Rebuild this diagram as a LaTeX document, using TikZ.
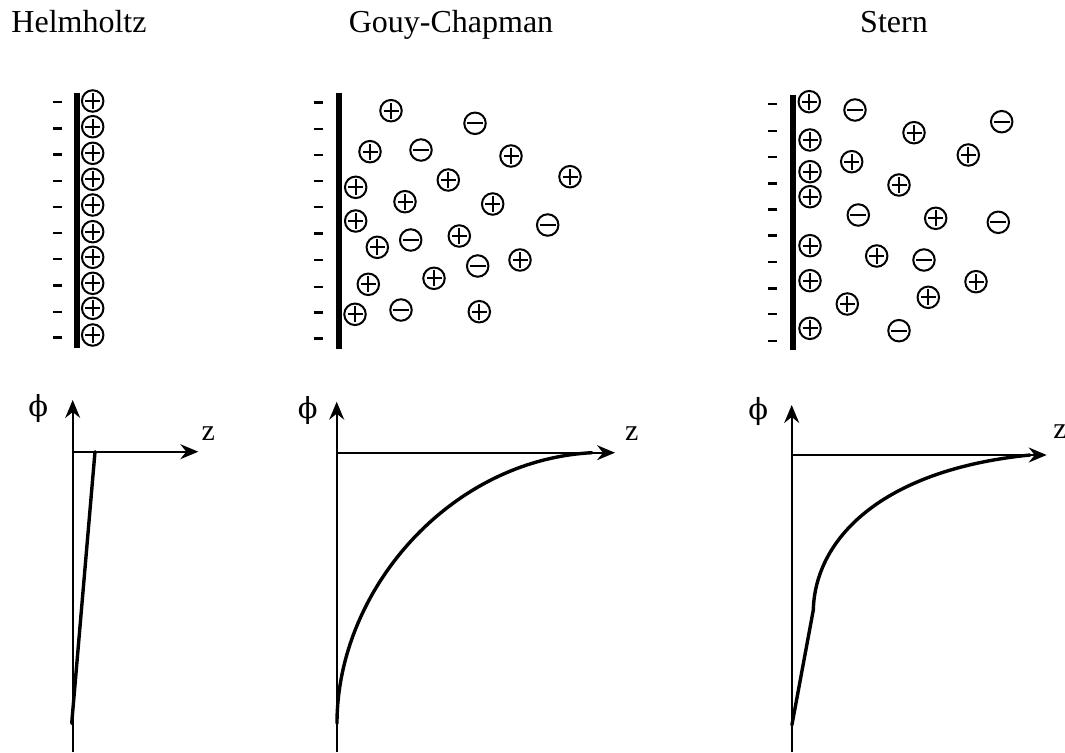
\documentclass[tikz,border=0pt]{standalone}
\usepackage{fontspec}
\setmainfont{Liberation Serif}
\newfontfamily\phifont{DejaVu Serif}
\usetikzlibrary{arrows.meta}
\tikzset{
  ionbase/.style={circle, draw, line width=2pt, fill=white, minimum size=21.5pt, inner sep=0pt},
  ionp/.style={ionbase, path picture={\draw[line width=1.9pt] (path picture bounding box.center) +(-7.5pt,0) -- +(7.5pt,0) (path picture bounding box.center) +(0,-8pt) -- +(0,8pt);}},
  ionm/.style={ionbase, path picture={\draw[line width=1.9pt] (path picture bounding box.center) +(-8pt,0) -- +(8pt,0);}},
  wall/.style={line width=6pt},
  chg/.style={line width=2.4pt},
  axis/.style={line width=1.6pt},
  axarrow/.style={axis, -{Stealth[length=18pt,width=15pt,inset=6pt]}},
  curve/.style={line width=3.4pt, line cap=round, line join=round},
  title/.style={font=\fontsize{32}{38}\selectfont, anchor=base, inner sep=0pt},
  philab/.style={font=\phifont\fontsize{29}{34}\selectfont, inner sep=0pt},
  zlab/.style={font=\fontsize{30}{34}\selectfont, inner sep=0pt}
}
\begin{document}
\begin{tikzpicture}[x=1pt,y=-1pt]
\useasboundingbox[fill=white] (0,0) rectangle (1065,752);

% titles
\node[title] (tH) at (79,32.3) {Helmholtz};
\node[title] (tG) at (451,32.3) {Gouy-Chapman};
\node[title] (tS) at (894,32.3) {Stern};

% ---------- Helmholtz ----------
\draw[wall] (77,93) -- (77,348);
\foreach \y in {101.7,128.3,154.3,180.7,206.7,232.7,259,285.3,311.7,337.3}
  \draw[chg] (53,\y) -- (62,\y);
\foreach \y [count=\i] in {101,126.7,153.3,179.3,205,231.7,257.3,283.3,308.3,335}
  \node[ionp] (hp\i) at (92.7,\y) {};

% ---------- Gouy-Chapman ----------
\draw[wall] (338.7,93.3) -- (338.7,349.3);
\foreach \y in {102.3,129,155,181,207,233.3,260,286.7,312.3,338.3}
  \draw[chg] (313.5,\y) -- (322.5,\y);
\foreach \x/\y [count=\i] in {391/110.7,370/151.7,511/156,570/176.7,448.3/180,355.7/187.3,405/201.7,492.7/204,355.7/221,459.3/236,377.3/247.3,520/260,434/278.3,368.3/284.3,355/314.3,479.3/311.7}
  \node[ionp] (gp\i) at (\x,\y) {};
\foreach \x/\y [count=\i] in {475/123.3,421/150,547.7/225,410.7/240,477.7/266,401/310}
  \node[ionm] (gm\i) at (\x,\y) {};

% ---------- Stern ----------
\draw[wall] (793.3,95) -- (793.3,350);
\foreach \y in {104,130.7,156.7,183.3,209.3,235.3,261.7,288.3,314,340.7}
  \draw[chg] (768,\y) -- (777,\y);
\foreach \x/\y [count=\i] in {809.3/101.7,914/132.7,810/140,968.3/155,851.7/161.7,810/171.7,899/185,810/196.7,935.7/218.3,810/245.7,876.7/256,810/280.7,976/281.7,928.3/297.3,847.3/304,810/328.3}
  \node[ionp] (sp\i) at (\x,\y) {};
\foreach \x/\y [count=\i] in {855/110,1001.7/121.7,858.3/215,998.3/222.3,924/260,899/330.7}
  \node[ionm] (sm\i) at (\x,\y) {};

% ---------- graphs ----------
% Helmholtz
\coordinate (hB) at (72.7,752);
\coordinate (hT) at (72.7,400);
\coordinate (hO) at (72.7,451.7);
\coordinate (hZ) at (198.3,451.7);
\coordinate (hC1) at (95,451.7);
\coordinate (hC2) at (71.7,723.3);
\draw[axarrow] (hB) -- (hT);
\draw[axarrow] (hO) -- (hZ);
\draw[curve] (hC1) -- (hC2);
\node[philab] (hphi) at (38.3,408.3) {ϕ};
\node[zlab] (hz) at (208.3,434) {z};

% Gouy-Chapman
\coordinate (gB) at (336.7,752);
\coordinate (gT) at (336.7,401.7);
\coordinate (gO) at (336.7,452.7);
\coordinate (gZ) at (615,452.7);
\coordinate (gC1) at (337,723.3);
\coordinate (gC2) at (592,452.7);
\draw[axarrow] (gB) -- (gT);
\draw[axarrow] (gO) -- (gZ);
\draw[curve] (gC1) .. controls (337,590) and (450,460) .. (gC2);
\node[philab] (gphi) at (307.7,410) {ϕ};
\node[zlab] (gz) at (631.7,434) {z};

% Stern
\coordinate (sB) at (791.7,752);
\coordinate (sT) at (791.7,405);
\coordinate (sO) at (791.7,455);
\coordinate (sZ) at (1046.7,455);
\coordinate (sC1) at (791.9,725);
\coordinate (sK) at (813.3,610);
\coordinate (sC2) at (1030,455);
\draw[axarrow] (sB) -- (sT);
\draw[axarrow] (sO) -- (sZ);
\draw[curve] (sC1) -- (sK) .. controls (815,540) and (880,470) .. (sC2);
\node[philab] (sphi) at (758.3,411.7) {ϕ};
\node[zlab] (sz) at (1060,432) {z};
\end{tikzpicture}
\end{document}
